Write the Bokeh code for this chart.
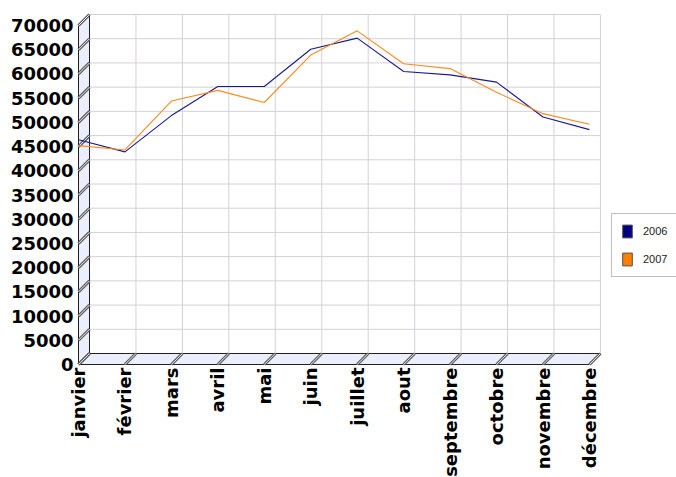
import math
from bokeh.plotting import figure
from bokeh.models import Legend, LegendItem, Range1d
from bokeh.core.properties import value
from bokeh.embed import file_html
from bokeh.resources import INLINE

# ---- data ----
months = ["janvier", "février", "mars", "avril", "mai", "juin", "juillet",
          "aout", "septembre", "octobre", "novembre", "décembre"]
sales_2006 = [46400, 43900, 51400, 57400, 57400, 65100, 67400, 60500, 59800, 58300, 51100, 48500]
sales_2007 = [45200, 44300, 54400, 56600, 54100, 63900, 68900, 62100, 61100, 56200, 51800, 49600]
y_ticks = list(range(0, 70001, 5000))
y_tick_labels = [str(v) for v in y_ticks]
series_names = ["2006", "2007"]

# ---- layout constants (pixels) ----
W, H = 676, 477
ORIGIN_X, ORIGIN_TOP = 78, 14   # front-left corner x, top of back wall
CAT_PX = 46.45            # pixels per category
VAL_PX = 339.0 / 70000.0  # pixels per unit value
DEPTH_PX = 11.0           # 3D depth offset
d = DEPTH_PX / CAT_PX
D = DEPTH_PX / VAL_PX
n = len(months)
last = n - 1
top_v = y_ticks[-1]
ymax = top_v + D + ORIGIN_TOP / VAL_PX
ymin = ymax - H / VAL_PX
xmin = -ORIGIN_X / CAT_PX
xmax = xmin + W / CAT_PX

BG = "#FFFFFF"
WALL = "#EAEEFD"
GRID = "#D4D0D8"
FONT = "DejaVu Sans"

p = figure(width=W, height=H, output_backend="svg", toolbar_location=None,
           x_range=Range1d(xmin, xmax), y_range=Range1d(ymin, ymax),
           x_axis_location=None, y_axis_location=None,
           min_border_left=0, min_border_top=0, min_border_right=0, min_border_bottom=0,
           background_fill_color=BG, border_fill_color=BG, outline_line_color=None)
p.grid.visible = False

# back wall
p.quad(left=[d], right=[last + d], bottom=[D], top=[top_v + D],
       fill_color=BG, line_color=None)
# horizontal grid lines on back wall
gy = [v + D for v in y_ticks[1:]]
p.segment(x0=[d] * len(gy), y0=gy, x1=[last + d] * len(gy), y1=gy,
          line_color=GRID, line_width=1)
# vertical grid lines on back wall
gx = [i + d for i in range(1, n)]
p.segment(x0=gx, y0=[D] * len(gx), x1=gx, y1=[top_v + D] * len(gx),
          line_color=GRID, line_width=1)

# left wall
p.patch(x=[0, d, d, 0], y=[0, D, top_v + D, top_v],
        fill_color=WALL, line_color="#202020", line_width=1)
# floor
p.patch(x=[0, last, last + d, d], y=[0, 0, D, D],
        fill_color=WALL, line_color="#202020", line_width=1)

# 3D ticks on left wall
p.segment(x0=[0] * len(y_ticks), y0=y_ticks, x1=[d] * len(y_ticks),
          y1=[v + D for v in y_ticks], line_color="#5A5A5A", line_width=3)
p.segment(x0=[0] * len(y_ticks), y0=y_ticks, x1=[d] * len(y_ticks),
          y1=[v + D for v in y_ticks], line_color="#EEEEEE", line_width=1)
# 3D ticks on floor
xi = list(range(n))
p.segment(x0=xi, y0=[0] * n, x1=[i + d for i in xi], y1=[D] * n,
          line_color="#5A5A5A", line_width=3)
p.segment(x0=xi, y0=[0] * n, x1=[i + d for i in xi], y1=[D] * n,
          line_color="#EEEEEE", line_width=1)

# data lines
p.line(xi, sales_2006, line_color="#1A1A90", line_width=1.1)
p.line(xi, sales_2007, line_color="#FF8A1F", line_width=1.1)

# x tick labels (vertical)
lab_y = -3.0 / VAL_PX
p.text(x=xi, y=[lab_y] * n, text=months, angle=math.pi / 2,
       text_align="right", text_baseline="middle",
       text_font=value(FONT), text_font_style="bold",
       text_font_size="18px", text_color="#000000")

# y tick labels
lab_x = -5.0 / CAT_PX
p.text(x=[lab_x] * len(y_ticks), y=y_ticks, text=y_tick_labels,
       text_align="right", text_baseline="middle",
       text_font=value(FONT), text_font_style="bold",
       text_font_size="18px", text_color="#000000")

# legend swatches (placed outside the visible range, only shown in the legend)
off = xmax + 5
r1 = p.quad(left=[off], right=[off + 1], top=[1], bottom=[0],
            fill_color="#000080", line_color="#505050")
r2 = p.quad(left=[off], right=[off + 1], top=[1], bottom=[0],
            fill_color="#FF8000", line_color="#505050")
legend = Legend(items=[LegendItem(label=series_names[0], renderers=[r1], index=0),
                       LegendItem(label=series_names[1], renderers=[r2], index=0)],
                location=(611, 200), orientation="vertical",
                glyph_width=12, glyph_height=16, label_height=16, label_standoff=10,
                spacing=12, padding=9, margin=0,
                label_text_font="Liberation Sans", label_text_font_size="11px",
                label_text_color="#222222",
                border_line_color="#808080", border_line_width=1,
                background_fill_color="#FFFFFF", background_fill_alpha=1.0)
p.add_layout(legend)

open("out.html", "w").write(file_html(p, INLINE))
